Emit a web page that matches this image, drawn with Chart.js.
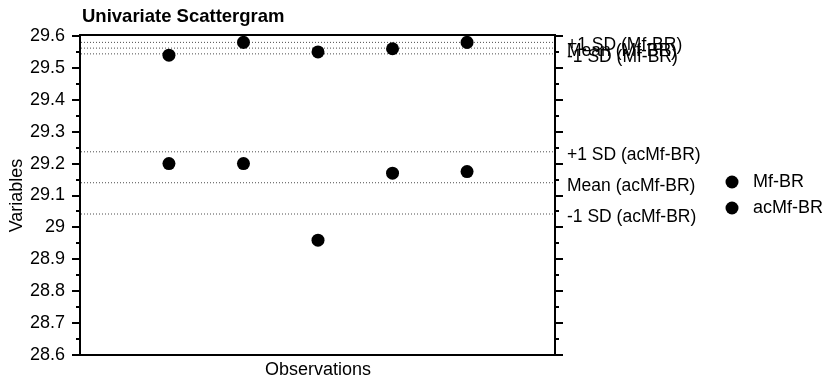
<!DOCTYPE html>
<html lang="en">
<head>
    <meta charset="UTF-8">
    <title>Univariate Scattergram</title>
    <style>
        body {
            margin: 0;
            padding: 0;
            background-color: #fff;
        }

        #chart-container {
            width: 829px;
            height: 384px;
        }
    </style>
</head>
<body>
    <div id="chart-container">
        <canvas id="chart" width="829" height="384"></canvas>
    </div>

    <script src="https://cdn.jsdelivr.net/npm/chart.js"></script>
    <script>
        // observations along x, one value per series
        var observations = [1, 2, 3, 4, 5];
        var mfBR = [29.54, 29.58, 29.55, 29.56, 29.58];
        var acMfBR = [29.20, 29.20, 28.96, 29.17, 29.175];

        // mean and +/-1 SD reference lines
        var refLabels = ['+1 SD (Mf-BR)', 'Mean (Mf-BR)', '-1 SD (Mf-BR)',
                         '+1 SD (acMf-BR)', 'Mean (acMf-BR)', '-1 SD (acMf-BR)'];
        var refValues = [29.58, 29.562, 29.544, 29.237, 29.14, 29.042];

        var xMin = -0.18, xMax = 6.18;
        var yMin = 28.6, yMax = 29.6;

        var fontFamily = '"Liberation Sans", Arial, sans-serif';
        Chart.defaults.font.family = fontFamily;
        Chart.defaults.font.size = 18;
        Chart.defaults.color = '#000';

        function toPoints(values) {
            return values.map(function(v, i) { return { x: observations[i], y: v }; });
        }

        var datasets = [
            { label: 'Mf-BR', data: toPoints(mfBR) },
            { label: 'acMf-BR', data: toPoints(acMfBR) }
        ].map(function(ds) {
            return Object.assign(ds, {
                type: 'scatter',
                order: 0,
                pointRadius: 6.5,
                pointBackgroundColor: '#000',
                pointBorderColor: '#000',
                pointBorderWidth: 0
            });
        });

        refValues.forEach(function(v, i) {
            datasets.push({
                type: 'line',
                label: refLabels[i],
                isRef: true,
                order: 1,
                data: [{ x: xMin, y: v }, { x: xMax, y: v }],
                borderColor: 'rgba(0,0,0,0.7)',
                borderWidth: 1,
                borderDash: [1, 2],
                pointRadius: 0
            });
        });

        // frame, tick marks, title and legend
        var decorations = {
            id: 'decorations',
            afterDraw: function(chart) {
                var ctx = chart.ctx;
                var area = chart.chartArea;
                var left = chart.scales.y, right = chart.scales.y2;
                ctx.save();
                ctx.strokeStyle = '#000';
                ctx.lineWidth = 2;
                ctx.strokeRect(area.left - 1, area.top - 1, area.right - area.left + 1, area.bottom - area.top + 1);

                for (var k = 0; k <= 20; k++) {
                    var v = yMin + k * 0.05;
                    var len = k % 2 === 0 ? 8 : 4;
                    var py = Math.round(left.getPixelForValue(v));
                    ctx.beginPath();
                    ctx.moveTo(area.left - 1, py);
                    ctx.lineTo(area.left - 1 - len, py);
                    ctx.stroke();
                    py = Math.round(right.getPixelForValue(v));
                    ctx.beginPath();
                    ctx.moveTo(area.right, py);
                    ctx.lineTo(area.right + len, py);
                    ctx.stroke();
                }

                ctx.fillStyle = '#000';
                ctx.font = 'bold 18.5px ' + fontFamily;
                ctx.textBaseline = 'middle';
                ctx.textAlign = 'left';
                ctx.fillText('Univariate Scattergram', 82, 17);

                ctx.font = '18px ' + fontFamily;
                chart.data.datasets.filter(function(ds) { return !ds.isRef; }).forEach(function(ds, i) {
                    var ly = 182 + i * 26;
                    ctx.beginPath();
                    ctx.arc(732, ly, 6.5, 0, Math.PI * 2);
                    ctx.fill();
                    ctx.fillText(ds.label, 753, ly);
                });
                ctx.restore();
            }
        };

        var ctx = document.getElementById('chart').getContext('2d');
        var myChart = new Chart(ctx, {
            type: 'scatter',
            data: { datasets: datasets },
            options: {
                responsive: false,
                animation: false,
                layout: { padding: { top: 36, left: 0, right: 0, bottom: 0 } },
                plugins: {
                    legend: { display: false },
                    tooltip: { enabled: false }
                },
                scales: {
                    x: {
                        type: 'linear',
                        min: xMin,
                        max: xMax,
                        grid: { display: false },
                        border: { display: false },
                        ticks: { display: false },
                        title: { display: true, text: 'Observations', padding: { top: 0, bottom: 3 } },
                        afterFit: function(scale) { scale.height = 29; }
                    },
                    y: {
                        position: 'left',
                        min: yMin,
                        max: yMax,
                        grid: { display: false, drawTicks: false },
                        border: { display: false },
                        ticks: {
                            stepSize: 0.1,
                            padding: 16,
                            callback: function(v) { return String(Math.round(v * 10) / 10); }
                        },
                        title: { display: true, text: 'Variables', padding: { top: 6, bottom: 0 } },
                        afterFit: function(scale) { scale.width = 81; }
                    },
                    y2: {
                        position: 'right',
                        min: yMin,
                        max: yMax,
                        grid: { display: false, drawTicks: false },
                        border: { display: false },
                        afterBuildTicks: function(scale) {
                            scale.ticks = refValues.map(function(v) { return { value: v }; });
                        },
                        ticks: {
                            padding: 12,
                            labelOffset: 3,
                            autoSkip: false,
                            font: { size: 17.5 },
                            callback: function(v, i) { return refLabels[i]; }
                        },
                        afterFit: function(scale) { scale.width = 274; }
                    }
                }
            },
            plugins: [decorations]
        });
    </script>
</body>
</html>
